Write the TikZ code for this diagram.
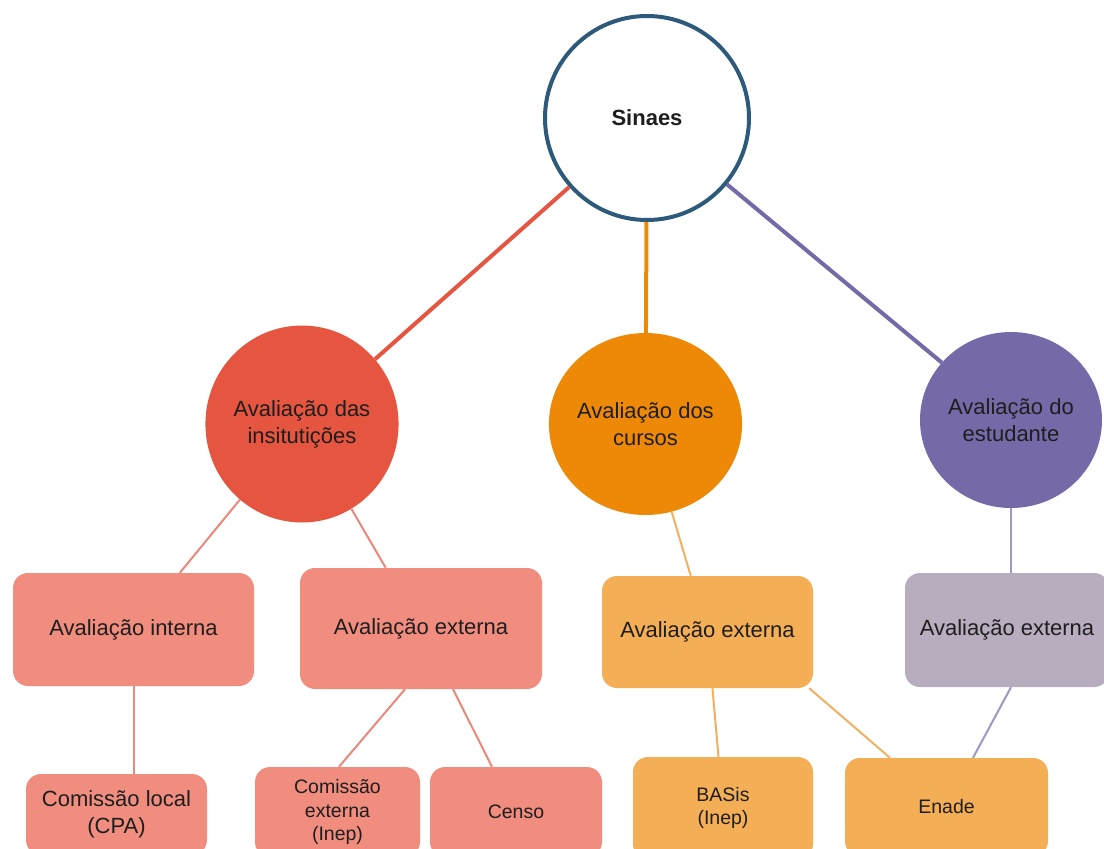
\documentclass[tikz,border=0pt]{standalone}
\usepackage{fontspec}
\setmainfont{Liberation Sans}
\usetikzlibrary{shapes.geometric}
\definecolor{sinb}{HTML}{2D5A7B}
\definecolor{cred}{HTML}{E5553F}
\definecolor{corg}{HTML}{EE8907}
\definecolor{cpur}{HTML}{7569A8}
\definecolor{bred}{HTML}{F08D7F}
\definecolor{borg}{HTML}{F4AE55}
\definecolor{bpur}{HTML}{B8ADBF}
\definecolor{lred}{HTML}{E8897C}
\definecolor{lorg}{HTML}{F2B060}
\definecolor{lpur}{HTML}{9D98C6}
\definecolor{txt}{HTML}{1E1E1E}
\begin{document}
\begin{tikzpicture}[x=1pt,y=-1pt,
  blob/.style={ellipse, inner sep=0pt, text=txt, align=center, font=\fontsize{22}{27}\selectfont},
  box/.style={rectangle, rounded corners=15pt, inner sep=0pt, text=txt, align=center, font=\fontsize{22}{27}\selectfont},
  smallbox/.style={box, font=\fontsize{19.5}{23.5}\selectfont},
  bigline/.style={line width=4pt},
  smallline/.style={line width=2pt}]
\useasboundingbox (0,0) rectangle (1104,849);
\fill[white] (0,0) rectangle (1104,849);
\clip (0,0) rectangle (1104,849);

% top node
\node[blob, draw=sinb, line width=4pt, fill=white, minimum size=204pt, font=\fontsize{22}{27}\selectfont\bfseries] (sinaes) at (647,118) {Sinaes};

% second level
\node[blob, fill=cred, minimum width=190pt, minimum height=197pt] (inst) at (302,424) {Avaliação das\\insitutições};
\node[blob, fill=corg, minimum width=175pt, minimum height=182pt] (cursos) at (645.5,424) {Avaliação dos\\cursos};
\node[blob, fill=cpur, minimum width=182pt, minimum height=176pt] (estud) at (1011,420) {Avaliação do\\estudante};

% third level
\node[box, fill=bred, minimum width=241pt, minimum height=113pt] (aint) at (133.5,629.5) {Avaliação interna};
\node[box, fill=bred, minimum width=242pt, minimum height=121pt] (aextA) at (421,628.5) {Avaliação externa};
\node[box, fill=borg, minimum width=211pt, minimum height=112pt] (aextB) at (707.5,632) {Avaliação externa};
\node[box, fill=bpur, minimum width=204pt, minimum height=114pt] (aextC) at (1007,630) {Avaliação externa};

% fourth level
\node[box, fill=bred, minimum width=181pt, minimum height=81pt] (cpa) at (116.5,814.5) {Comissão local\\(CPA)};
\node[smallbox, fill=bred, minimum width=165pt, minimum height=90pt] (cext) at (337.5,812) {Comissão\\externa\\(Inep)};
\node[smallbox, fill=bred, minimum width=172pt, minimum height=90pt] (censo) at (516,812) {Censo};
\node[smallbox, fill=borg, minimum width=180pt, minimum height=102pt] (basis) at (723,808) {BASis\\(Inep)};
\node[smallbox, fill=borg, minimum width=203pt, minimum height=98pt] (enade) at (946.5,807) {Enade};

% connectors from Sinaes
\draw[bigline, cred] (sinaes) -- (inst);
\draw[bigline, corg] (sinaes) -- (cursos);
\draw[bigline, cpur] (sinaes) -- (estud);

% connectors to boxes
\draw[smallline, lred] (inst) -- (aint);
\draw[smallline, lred] (inst) -- (aextA);
\draw[smallline, lorg] (cursos) -- (aextB);
\draw[smallline, lpur] (estud.south) -- (estud.south |- aextC.north);

\draw[smallline, lred] (aint.south) -- (aint.south |- cpa.north);
\draw[smallline, lred] ([xshift=-16pt]aextA.south) -- ([xshift=1.5pt]cext.north);
\draw[smallline, lred] ([xshift=32pt]aextA.south) -- ([xshift=-24pt]censo.north);
\draw[smallline, lorg] (aextB) -- (basis);
\draw[smallline, lorg] ([xshift=-4pt]aextB.south east) -- ([xshift=-56.5pt]enade.north);
\draw[smallline, lpur] ([xshift=4pt]aextC.south) -- ([xshift=26.5pt]enade.north);
\end{tikzpicture}
\end{document}
